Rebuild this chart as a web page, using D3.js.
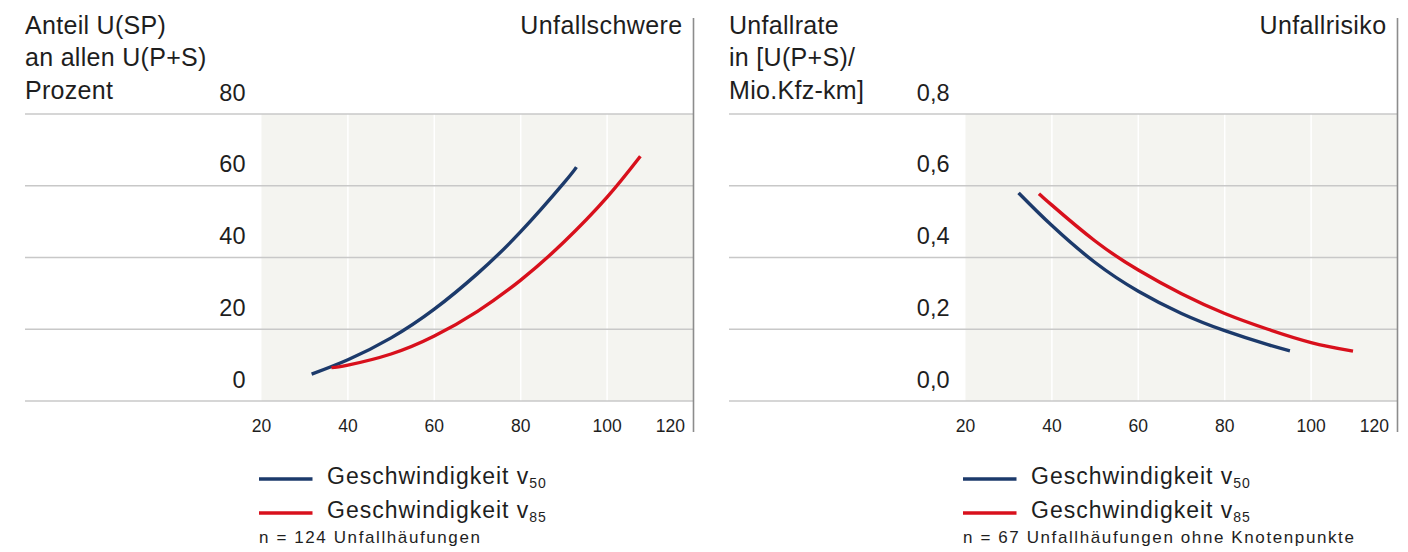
<!DOCTYPE html>
<html><head><meta charset="utf-8">
<script src="https://cdn.jsdelivr.net/npm/d3@7"></script>
<style>
html,body{margin:0;padding:0;background:#fff;}
svg text{font-family:"Liberation Sans",Arial,sans-serif;fill:#1e1e1e;}
</style></head>
<body><svg id="c" width="1408" height="552"></svg>
<script>
// ---- data ----
const xTicks = [20, 40, 60, 80, 100, 120];
const leftYTicks = [0, 20, 40, 60, 80];
const rightYTicks = [0, 0.2, 0.4, 0.6, 0.8];
const leftTitleLines = ["Anteil U(SP)", "an allen U(P+S)", "Prozent"];
const rightTitleLines = ["Unfallrate", "in [U(P+S)/", "Mio.Kfz-km]"];
const leftCornerTitle = "Unfallschwere";
const rightCornerTitle = "Unfallrisiko";
const seriesNames = ["Geschwindigkeit v50", "Geschwindigkeit v85"];
const leftNote = "n = 124 Unfallhäufungen";
const rightNote = "n = 67 Unfallhäufungen ohne Knotenpunkte";

// Unfallschwere (percent) — [speed, value]
const schwereV50 = [[31.6,7.5],[40,11.5],[50,17.6],[60,25.6],[70,35.5],[80,47.2],[90,60.8],[92.9,65.2]];
const schwereV85 = [[36.2,9.3],[40,10.0],[50,13.1],[60,18.1],[70,25.0],[80,33.7],[90,44.3],[100,56.8],[107.7,68.2]];
// Unfallrisiko (rate)
const risikoV50 = [[32.3,0.580],[40,0.489],[50,0.386],[60,0.306],[70,0.244],[80,0.196],[90,0.157],[95.1,0.140]];
const risikoV85 = [[37.0,0.578],[40,0.546],[50,0.446],[60,0.365],[70,0.299],[80,0.244],[90,0.200],[100,0.163],[109.7,0.139]];

const colors = ["#1c3a6b", "#d8101c"];

const svg = d3.select("#c");

function panel(off, cfg){
  const g = svg.append("g").attr("transform", `translate(${off},0)`);
  const x = d3.scaleLinear().domain([20,120]).range([261.5, 693.5]);
  const y = d3.scaleLinear().domain(cfg.yDomain).range([401, 114]);
  g.append("rect").attr("x", x(20)).attr("y", y(cfg.yDomain[1]))
    .attr("width", x(120)-x(20)).attr("height", y(cfg.yDomain[0])-y(cfg.yDomain[1]))
    .attr("fill", "#f4f4f0");
  g.selectAll(".vg").data(xTicks.filter(d=>d>20 && d<120)).enter().append("line")
    .attr("x1", d=>x(d)).attr("x2", d=>x(d)).attr("y1", y(cfg.yDomain[1])).attr("y2", y(cfg.yDomain[0]))
    .attr("stroke", "#ffffff").attr("stroke-width", 1.5);
  g.selectAll(".hg").data(cfg.yTicks).enter().append("line")
    .attr("x1", 25).attr("x2", x(120)).attr("y1", d=>y(d)).attr("y2", d=>y(d))
    .attr("stroke", "#c8c8c8").attr("stroke-width", 1.5);
  g.append("line").attr("x1", x(120)).attr("x2", x(120)).attr("y1", 18).attr("y2", 432)
    .attr("stroke", "#8c8c8c").attr("stroke-width", 1.6);
  g.selectAll(".yl").data(cfg.yTicks).enter().append("text")
    .attr("x", 245.5).attr("y", d=>y(d)-13.5).attr("text-anchor","end")
    .style("font-size","23.5px").text(cfg.fmt);
  g.selectAll(".xl").data(xTicks).enter().append("text")
    .attr("x", d=> d===120 ? x(d)-8.5 : x(d)).attr("y", 432)
    .attr("text-anchor", d=> d===120 ? "end" : "middle")
    .style("font-size","17.5px").text(d=>d);
  g.selectAll(".tl").data(cfg.titleLines).enter().append("text")
    .attr("x", 25).attr("y", (d,i)=>34+i*32.3)
    .style("font-size","25px").style("letter-spacing","0.3px").text(d=>d);
  g.append("text").attr("x", x(120)-11).attr("y", 34).attr("text-anchor","end")
    .style("font-size","25px").style("letter-spacing","0.4px").text(cfg.corner);
  const line = d3.line().x(d=>x(d[0])).y(d=>y(d[1])).curve(d3.curveNatural);
  cfg.series.forEach((s,i)=>{
    g.append("path").datum(s).attr("d", line).attr("fill","none")
      .attr("stroke", colors[i]).attr("stroke-width", 3.4);
  });
  seriesNames.forEach((nm,i)=>{
    const ly = 479 + i*34;
    g.append("line").attr("x1", 259).attr("x2", 312.5).attr("y1", ly).attr("y2", ly)
      .attr("stroke", colors[i]).attr("stroke-width", 3.5);
    const parts = nm.split(" v");
    const t = g.append("text").attr("x", 327).attr("y", ly+4.5).style("font-size","23px")
      .style("letter-spacing","1px");
    t.append("tspan").text(parts[0] + " v");
    t.append("tspan").attr("dy", 4).style("font-size","14px").style("letter-spacing","0.8px").text(parts[1]);
  });
  g.append("text").attr("x", 259).attr("y", 543).style("font-size","17px")
    .style("letter-spacing","1.6px").text(cfg.note);
}

panel(0, {yDomain:[0,80], yTicks:leftYTicks, fmt:d=>d, titleLines:leftTitleLines,
  corner:leftCornerTitle, series:[schwereV50, schwereV85], note:leftNote});
panel(704, {yDomain:[0,0.8], yTicks:rightYTicks, fmt:d=>d3.format(".1f")(d).replace(".", ","),
  titleLines:rightTitleLines, corner:rightCornerTitle, series:[risikoV50, risikoV85], note:rightNote});
</script></body></html>
